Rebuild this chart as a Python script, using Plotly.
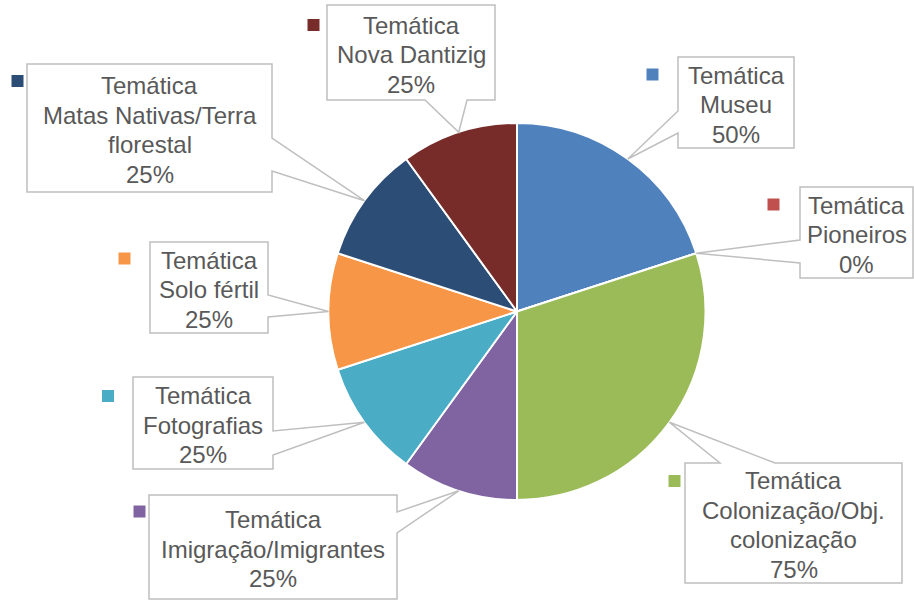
import math
import textwrap
import plotly.graph_objects as go

# ---- data -------------------------------------------------------------
series_name = "Temática"
categories = [
    "Museu",
    "Pioneiros",
    "Colonização/Obj. colonização",
    "Imigração/Imigrantes",
    "Fotografias",
    "Solo fértil",
    "Matas Nativas/Terra florestal",
    "Nova Dantizig",
]
values = [50, 0, 75, 25, 25, 25, 25, 25]
colors = ["#4F81BD", "#C0504D", "#9BBB59", "#8064A2",
          "#4BACC6", "#F79646", "#2C4D75", "#772C2A"]

# ---- layout (pixel space of a 914 x 601 canvas) -----------------------
W, H = 914, 601
CX, CY, R = 517, 311.5, 188.5

# callout boxes: (x0, y0, x1, y1), side the pointer leaves from, pointer base
boxes = [
    ((678, 57, 794, 148), "left", (111, 133)),
    ((800, 187, 913, 278), "left", (240, 263)),
    ((685, 463, 902, 583), "top", (720, 775)),
    ((149, 495, 397, 599), "right", (512, 533)),
    ((133, 377, 273, 469), "right", (431, 455)),
    ((150, 242, 268, 333), "right", (295, 317)),
    ((27, 64, 272, 192), "right", (138, 171)),
    ((327, 5, 495, 100), "bottom", (425, 467)),
]
# little colour keys beside each callout
keys = [(652.5, 74.5), (773.5, 204.5), (674.5, 481), (139.5, 511.5),
        (108, 396), (124.5, 258.5), (17.5, 81), (313.5, 25)]

TEXT_COLOR = "#595959"
BORDER = "#BFBFBF"
FONT = "Liberation Sans, Arial, sans-serif"
FONT_SIZE = 24
LINE_STEP = 29.5

total = sum(values)

fig = go.Figure()

fig.add_trace(go.Pie(
    labels=categories,
    values=values,
    sort=False,
    direction="clockwise",
    rotation=0,
    textinfo="none",
    hoverinfo="label+value",
    showlegend=False,
    marker=dict(colors=colors, line=dict(color="white", width=2)),
    domain=dict(x=[(CX - R) / W, (CX + R) / W],
                y=[(H - CY - R) / H, (H - CY + R) / H]),
))

# colour keys
fig.add_trace(go.Scatter(
    x=[k[0] for k in keys], y=[k[1] for k in keys],
    mode="markers",
    marker=dict(symbol="square", size=12, color=colors, line=dict(width=0)),
    hoverinfo="skip", showlegend=False,
))


def callout_path(box, side, base, tip):
    x0, y0, x1, y1 = box
    b0, b1 = base
    tx, ty = tip
    pts = [(x0, y0)]
    if side == "top":
        pts += [(b0, y0), (tx, ty), (b1, y0)]
    pts.append((x1, y0))
    if side == "right":
        pts += [(x1, b0), (tx, ty), (x1, b1)]
    pts.append((x1, y1))
    if side == "bottom":
        pts += [(b1, y1), (tx, ty), (b0, y1)]
    pts.append((x0, y1))
    if side == "left":
        pts += [(x0, b1), (tx, ty), (x0, b0)]
    return "M " + " L ".join(f"{x:.2f},{y:.2f}" for x, y in pts) + " Z"


shapes = []
annotations = []
cum = 0.0
for name, val, (box, side, base) in zip(categories, values, boxes):
    mid = (cum + val / 2) / total * 2 * math.pi
    cum += val
    tip = (CX + R * math.sin(mid), CY - R * math.cos(mid))
    shapes.append(dict(
        type="path", xref="x", yref="y", layer="above",
        path=callout_path(box, side, base, tip),
        fillcolor="white", line=dict(color=BORDER, width=1.5),
    ))
    lines = [series_name] + textwrap.wrap(name, width=20) + [f"{val}%"]
    xc = (box[0] + box[2]) / 2
    yc = (box[1] + box[3]) / 2 + 2
    n = len(lines)
    for i, line in enumerate(lines):
        annotations.append(dict(
            xref="x", yref="y",
            x=xc, y=yc + (i - (n - 1) / 2) * LINE_STEP,
            xanchor="center", yanchor="middle",
            text=line, showarrow=False,
            font=dict(family=FONT, size=FONT_SIZE, color=TEXT_COLOR),
        ))

fig.update_layout(
    width=W, height=H,
    margin=dict(l=0, r=0, t=0, b=0),
    paper_bgcolor="white", plot_bgcolor="rgba(0,0,0,0)",
    xaxis=dict(range=[0, W], visible=False, fixedrange=True, domain=[0, 1]),
    yaxis=dict(range=[H, 0], visible=False, fixedrange=True, domain=[0, 1]),
    shapes=shapes,
    annotations=annotations,
    showlegend=False,
)

fig.write_html("out.html")
